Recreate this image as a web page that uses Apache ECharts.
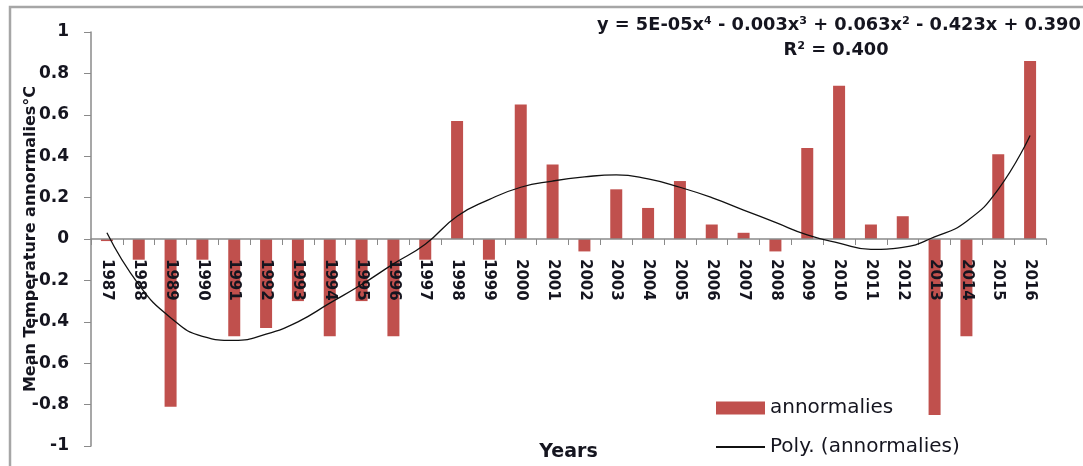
<!DOCTYPE html>
<html>
<head>
<meta charset="utf-8">
<script src="https://cdn.jsdelivr.net/npm/echarts@6/dist/echarts.min.js"></script>
<style>
  html, body { margin: 0; padding: 0; background: #fff; }
  #chart { width: 1083px; height: 466px; }
</style>
</head>
<body>
<div id="chart"></div>
<script>
// Years on the category axis
const years = [
  '1987','1988','1989','1990','1991','1992','1993','1994','1995','1996',
  '1997','1998','1999','2000','2001','2002','2003','2004','2005','2006',
  '2007','2008','2009','2010','2011','2012','2013','2014','2015','2016'
];

// Mean temperature anomalies (°C) per year
const anomalies = [
  -0.01, -0.10, -0.81, -0.10, -0.47, -0.43, -0.30, -0.47, -0.30, -0.47,
  -0.10,  0.57, -0.10,  0.65,  0.36, -0.06,  0.24,  0.15,  0.28,  0.07,
   0.03, -0.06,  0.44,  0.74,  0.07,  0.11, -0.85, -0.47,  0.41,  0.86
];

// 4th-order polynomial trend evaluated at each year
const polyTrend = [
   0.03, -0.22, -0.38, -0.47, -0.49, -0.46, -0.40, -0.31, -0.22, -0.12,
  -0.025, 0.11,  0.19,  0.25,  0.28,  0.30,  0.31,  0.29,  0.25,  0.20,
   0.14,  0.08,  0.02, -0.02, -0.05, -0.04,  0.01,  0.085, 0.24,  0.50
];

// Value-axis ticks
const yTicks = { min: -1, max: 1, step: 0.2 };

const trendEquation = 'y = 5E-05x\u2074 - 0.003x\u00b3 + 0.063x\u00b2 - 0.423x + 0.390';
const trendR2 = 'R\u00b2 = 0.400';

const FONT = 'DejaVu Sans';
const TEXT = '#15151f';

// plot area: the zero line sits halfway down, so the year axis is lifted by half the height
const GRID = { left: 91, right: 37, top: 32, bottom: 20 };
const plotHeight = 466 - GRID.top - GRID.bottom;

const chart = echarts.init(document.getElementById('chart'), null, { renderer: 'canvas' });

chart.setOption({
  animation: false,
  backgroundColor: '#ffffff',
  textStyle: { fontFamily: FONT, color: TEXT },
  grid: Object.assign({ containLabel: false, outerBoundsMode: 'none' }, GRID),
  legend: {
    orient: 'vertical',
    left: 710,
    top: 393,
    itemWidth: 49,
    itemHeight: 13,
    itemGap: 19,
    textStyle: { fontFamily: FONT, fontSize: 20, color: TEXT },
    data: [
      { name: 'annormalies', icon: 'rect' },
      { name: 'Poly. (annormalies)', itemStyle: { opacity: 0 } }
    ]
  },
  xAxis: {
    type: 'category',
    data: years,
    position: 'bottom',
    offset: -plotHeight / 2,
    z: 3,
    name: 'Years',
    nameLocation: 'middle',
    nameGap: 204,
    nameMoveOverlap: false,
    nameTextStyle: { fontFamily: FONT, fontSize: 19, fontWeight: 'bold', color: TEXT },
    axisLine: { onZero: false, lineStyle: { color: '#8a8a8a', width: 1.5 } },
    axisTick: { show: true, alignWithLabel: false, length: 6, lineStyle: { color: '#8a8a8a' } },
    axisLabel: {
      interval: 0,
      rotate: -90,
      margin: 20,
      fontFamily: FONT,
      fontSize: 15,
      fontWeight: 'bold',
      color: TEXT
    },
    splitLine: { show: false }
  },
  yAxis: {
    type: 'value',
    min: yTicks.min,
    max: yTicks.max,
    interval: yTicks.step,
    z: 3,
    name: 'Mean Temperature annormalies\u00b0C',
    nameLocation: 'middle',
    nameRotate: 90,
    nameGap: 52,
    nameMoveOverlap: false,
    nameTextStyle: { fontFamily: FONT, fontSize: 16, fontWeight: 'bold', color: TEXT },
    axisLine: { show: true, lineStyle: { color: '#8a8a8a', width: 1.5 } },
    axisTick: { show: true, length: 7, lineStyle: { color: '#8a8a8a' } },
    axisLabel: {
      margin: 22,
      fontFamily: FONT,
      fontSize: 17,
      fontWeight: 'bold',
      color: TEXT,
      formatter: v => String(Math.round(v * 10) / 10)
    },
    splitLine: { show: false }
  },
  series: [
    {
      name: 'annormalies',
      type: 'bar',
      data: anomalies,
      barWidth: 12,
      z: 2,
      itemStyle: { color: '#c0504d' }
    },
    {
      name: 'Poly. (annormalies)',
      type: 'line',
      data: polyTrend,
      smooth: 0.5,
      symbol: 'none',
      lineStyle: { color: '#111111', width: 1.3 },
      itemStyle: { color: '#111111' },
      z: 5
    }
  ],
  graphic: [
    {
      type: 'rect',
      shape: { x: 10, y: 7, width: 1120, height: 520 },
      style: { fill: 'none', stroke: '#a6a6a6', lineWidth: 2.5 },
      silent: true
    },
    {
      type: 'text',
      x: 597,
      y: 25,
      style: { text: trendEquation, font: 'bold 17.8px "DejaVu Sans"', fill: TEXT, verticalAlign: 'middle' }
    },
    {
      type: 'text',
      x: 836,
      y: 50,
      style: { text: trendR2, font: 'bold 17.8px "DejaVu Sans"', fill: TEXT, align: 'center', verticalAlign: 'middle' }
    }
  ]
});
</script>
</body>
</html>
